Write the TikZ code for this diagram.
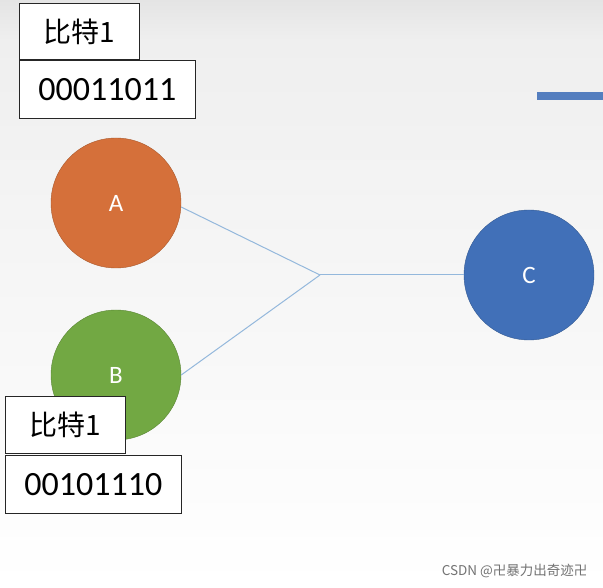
\documentclass[tikz,border=0pt]{standalone}
\usepackage{fontspec}
\setmainfont{Carlito}
\newfontfamily\cjk{Noto Sans CJK SC}
\usetikzlibrary{positioning}
\definecolor{orangeA}{HTML}{D5703A}
\definecolor{greenB}{HTML}{72A843}
\definecolor{blueC}{HTML}{4170B8}
\definecolor{linkc}{HTML}{94B8DC}
\definecolor{bgtop}{HTML}{E4E4E4}
\definecolor{bgmid}{HTML}{EFEFEF}
\definecolor{bgbot}{HTML}{FFFFFF}
\tikzset{
  px/.style={x=1pt,y=-1pt},
  circ/.style={circle,minimum size=130pt,inner sep=0pt,text=white,font=\fontsize{25}{29}\selectfont},
  labbox/.style={draw=black!85,fill=white,line width=0.8pt,inner sep=0pt,anchor=north west},
  link/.style={draw=linkc,line width=1pt}
}
\begin{document}
\begin{tikzpicture}[px]
\useasboundingbox (0,0) rectangle (603,588);
\shade[top color=bgtop,bottom color=bgmid] (0,0) rectangle (603,40);
\shade[top color=bgmid,bottom color=bgbot] (0,40) rectangle (603,588);
% blue bar top right
\fill[blueC!90!white] (537,92) rectangle (603,100);
% circles
\node[circ,fill=orangeA,draw=orangeA!80!black] (A) at (116,203) {A};
\node[circ,fill=greenB,draw=greenB!80!black] (B) at (116,375) {B};
\node[circ,fill=blueC,draw=blueC!80!black] (C) at (529,275) {C};
\coordinate (J) at (320,275);
\draw[link] (A.east) ++(0,4) -- (J);
\draw[link] (B.east) -- (J);
\draw[link] (J) -- (C.west);
% top labels
\node[labbox,minimum width=120pt,minimum height=56pt] (t1) at (19,3) {};
\node[font=\cjk\fontsize{28}{32}\selectfont] at (t1.center) {比特1};
\node[labbox,minimum width=176pt,minimum height=58pt] (t2) at (19,60) {};
\node[font=\fontsize{34}{38}\selectfont] at (t2.center) {00011011};
% bottom labels
\node[labbox,minimum width=120pt,minimum height=57pt] (b1) at (5,396) {};
\node[font=\cjk\fontsize{28}{32}\selectfont] at (b1.center) {比特1};
\node[labbox,minimum width=176pt,minimum height=58pt] (b2) at (5,455) {};
\node[font=\fontsize{34}{38}\selectfont] at (b2.center) {00101110};
% watermark
\node[font=\cjk\fontsize{13.5}{15}\selectfont,text=black!55,anchor=east] (wm) at (591,571) {CSDN @卍暴力出奇迹卍};
\end{tikzpicture}
\end{document}
